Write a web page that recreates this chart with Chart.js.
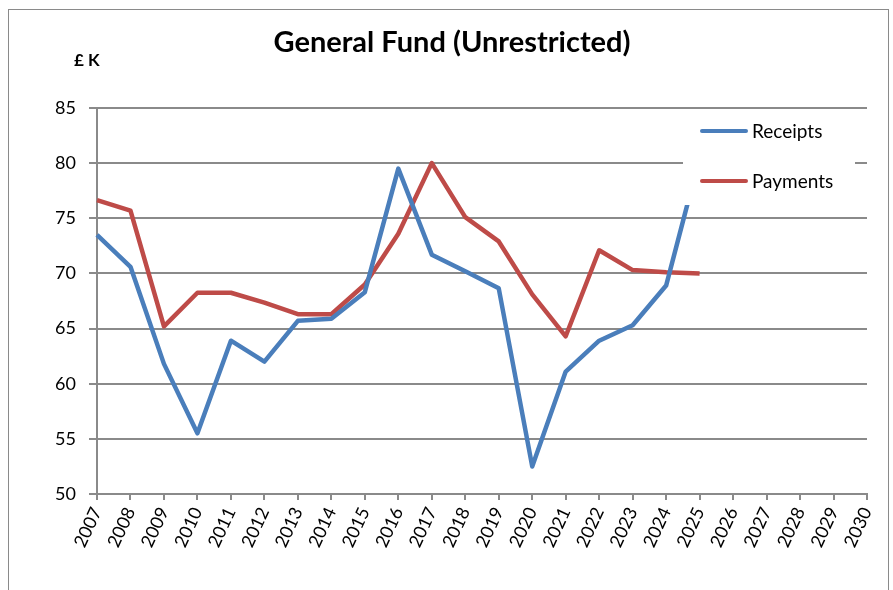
<!DOCTYPE html>
<html>
<head>
<meta charset="utf-8">
<script src="https://cdn.jsdelivr.net/npm/chart.js@4/dist/chart.umd.min.js"></script>
<style>
html,body{margin:0;padding:0;background:#fff;}
canvas{display:block;}
</style>
</head>
<body>
<canvas id="c" width="893" height="590"></canvas>
<script>
const years = ['2007','2008','2009','2010','2011','2012','2013','2014','2015','2016','2017','2018','2019','2020','2021','2022','2023','2024','2025','2026','2027','2028','2029','2030'];
const receipts = [73.5, 70.6, 61.8, 55.5, 63.9, 62.0, 65.7, 65.9, 68.3, 79.5, 71.7, 70.2, 68.65, 52.5, 61.1, 63.9, 65.3, 68.9, 80.5, null, null, null, null, null];
const payments = [76.65, 75.7, 65.2, 68.25, 68.25, 67.35, 66.3, 66.3, 69.0, 73.6, 80.0, 75.1, 72.9, 68.1, 64.3, 72.1, 70.3, 70.1, 70.0, null, null, null, null, null];
const yTicks = [50, 55, 60, 65, 70, 75, 80, 85];
const titleText = 'General Fund (Unrestricted)';
const unitText = '£ K';
const seriesNames = ['Receipts', 'Payments'];

const BLUE = '#4A7EBB';
const RED = '#BE4B48';
const GRID = '#8a8a8a';
const FONT = 'Lato, "Open Sans", sans-serif';

const decor = {
  id: 'decor',
  beforeDraw(chart) {
    const ctx = chart.ctx;
    ctx.save();
    ctx.fillStyle = '#fff';
    ctx.fillRect(0, 0, chart.width, chart.height);
    ctx.strokeStyle = '#8a8a8a';
    ctx.lineWidth = 1;
    ctx.strokeRect(8.5, 9.5, 880, 620);
    ctx.fillStyle = '#000';
    ctx.font = 'bold 29px ' + FONT;
    ctx.textAlign = 'center';
    ctx.textBaseline = 'middle';
    ctx.fillText(titleText, 452, 43);
    ctx.font = 'bold 17px ' + FONT;
    ctx.textAlign = 'left';
    ctx.fillText(unitText, 74, 61);
    ctx.restore();
  },
  afterDatasetsDraw(chart) {
    const ctx = chart.ctx;
    ctx.save();
    ctx.fillStyle = '#fff';
    ctx.fillRect(683, 109, 172, 96);
    const items = [
      {label: chart.data.datasets[0].label, color: chart.data.datasets[0].borderColor, y: 131},
      {label: chart.data.datasets[1].label, color: chart.data.datasets[1].borderColor, y: 181}
    ];
    items.forEach(it => {
      ctx.strokeStyle = it.color;
      ctx.lineWidth = 4;
      ctx.lineCap = 'round';
      ctx.beginPath();
      ctx.moveTo(702, it.y);
      ctx.lineTo(746, it.y);
      ctx.stroke();
      ctx.fillStyle = '#000';
      ctx.font = '19px ' + FONT;
      ctx.textAlign = 'left';
      ctx.textBaseline = 'middle';
      ctx.fillText(it.label, 752, it.y + 1);
    });
    ctx.restore();
  }
};

new Chart(document.getElementById('c'), {
  type: 'line',
  data: {
    labels: years,
    datasets: [
      {label: seriesNames[0], data: receipts, borderColor: BLUE, backgroundColor: BLUE, borderWidth: 4.5, pointRadius: 0, tension: 0, borderJoinStyle: 'round', borderCapStyle: 'butt', spanGaps: false},
      {label: seriesNames[1], data: payments, borderColor: RED, backgroundColor: RED, borderWidth: 4.5, pointRadius: 0, tension: 0, borderJoinStyle: 'round', borderCapStyle: 'butt', spanGaps: false}
    ]
  },
  options: {
    responsive: false,
    animation: false,
    devicePixelRatio: 1,
    layout: {padding: {left: 8, right: 26, top: 108, bottom: 0}},
    plugins: {legend: {display: false}, title: {display: false}, tooltip: {enabled: false}},
    scales: {
      x: {
        type: 'category',
        offset: false,
        grid: {display: true, drawOnChartArea: false, drawTicks: true, tickLength: 6, color: GRID, lineWidth: 2, offset: false},
        border: {display: true, color: GRID, width: 2},
        ticks: {autoSkip: false, minRotation: 65, maxRotation: 65, padding: 4, color: '#000', font: {family: FONT, size: 18}},
        afterFit(scale) { scale.height = 96; }
      },
      y: {
        min: 50, max: 85,
        afterBuildTicks(scale) { scale.ticks = yTicks.map(v => ({value: v})); },
        grid: {display: true, drawOnChartArea: true, drawTicks: true, tickLength: 8, color: GRID, lineWidth: 2},
        border: {display: true, color: GRID, width: 2},
        ticks: {padding: 13, color: '#000', font: {family: FONT, size: 18}},
        afterFit(scale) { scale.width = 89; }
      }
    }
  },
  plugins: [decor]
});
</script>
</body>
</html>
